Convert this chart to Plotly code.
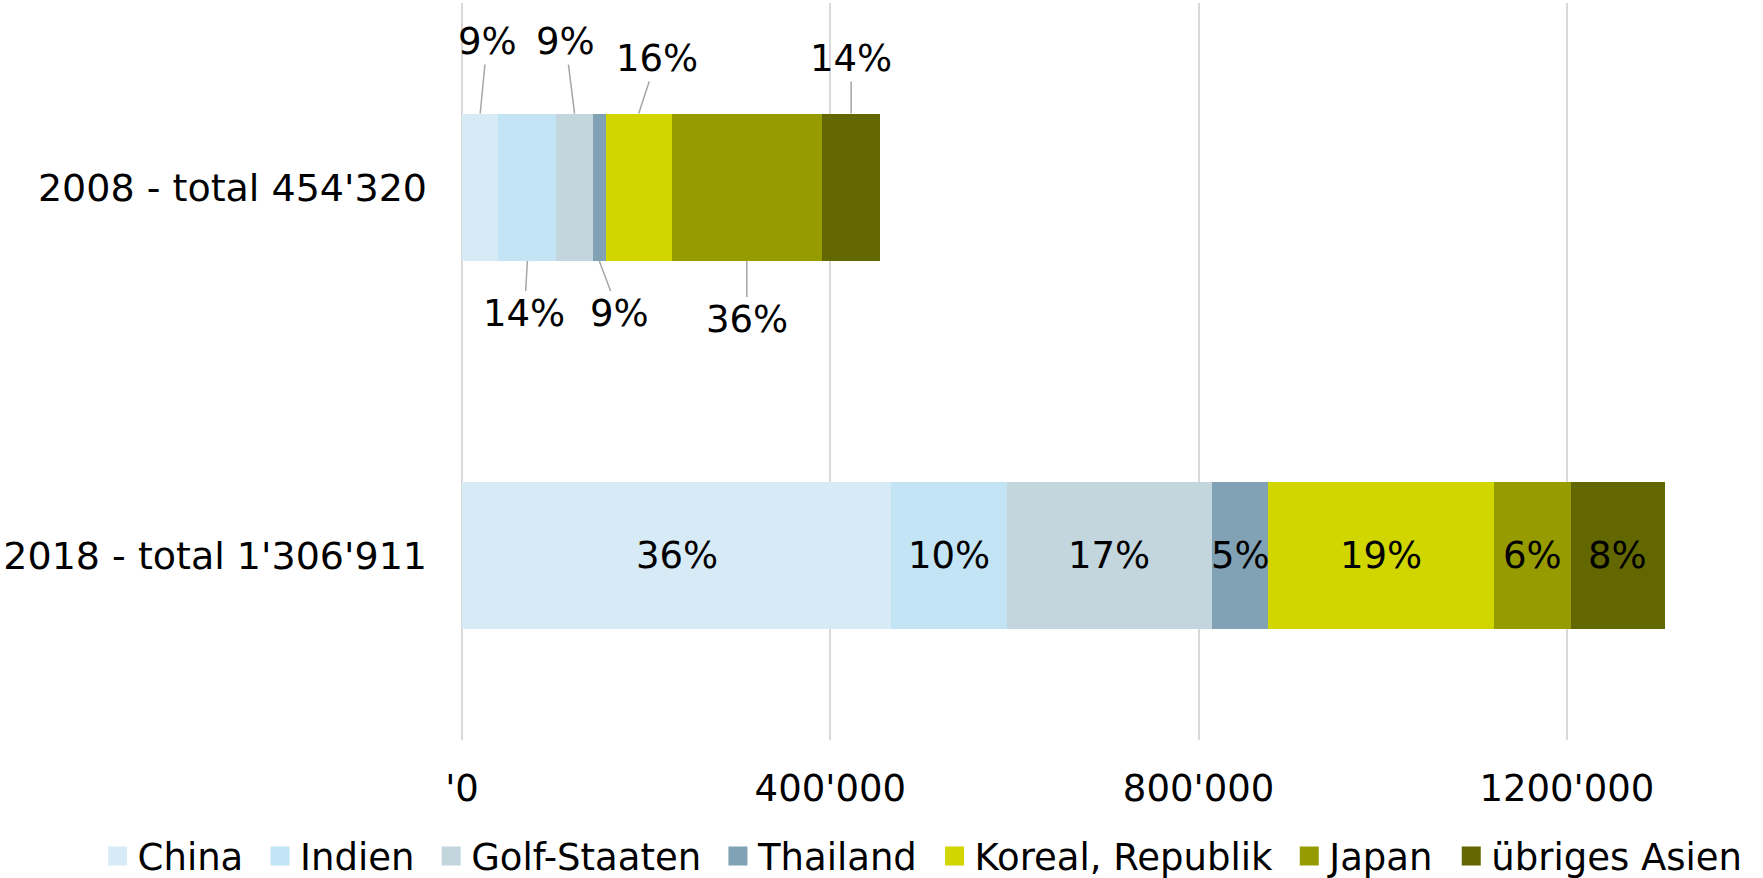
import plotly.graph_objects as go
import numpy as np

# --- data -------------------------------------------------------------
years = ["2008 - total 454'320", "2018 - total 1'306'911"]
regions = ["China", "Indien", "Golf-Staaten", "Thailand",
           "Koreal, Republik", "Japan", "übriges Asien"]
values_2008 = [39500, 63000, 39500, 14200, 71500, 163300, 63320]
values_2018 = [466000, 125500, 223500, 60000, 246000, 83000, 102911]
labels_2008 = ["9%", "14%", "9%", "9%", "16%", "36%", "14%"]
labels_2018 = ["36%", "10%", "17%", "5%", "19%", "6%", "8%"]
tick_vals = [0, 400000, 800000, 1200000]
tick_text = ["'0", "400'000", "800'000", "1200'000"]

# --- styling ------------------------------------------------------------
colors = ["#d7ebf7", "#c2e4f5", "#c3d6de", "#80a2b4",
          "#d1d500", "#969b00", "#636700"]
FONT = "DejaVu Sans"
FS = 37
# leader-line offsets (px) for the 2008 labels, and whether above/below
leader_2008 = [(7, -72, -1), (-3, 53, 1), (-9, -72, -1), (20, 53, 1),
               (18, -55, -1), (0, 59, 1), (0, -55, -1)]
BAR_HALF = 0.2

fig = go.Figure()

for i, reg in enumerate(regions):
    fig.add_trace(go.Bar(
        y=years, x=[values_2008[i], values_2018[i]], orientation="h",
        marker=dict(color=colors[i], line=dict(width=0)),
        name=reg, showlegend=False, hoverinfo="x+name",
    ))
    # legend entry with a larger square swatch
    pad = "\u2008" if i < len(regions) - 1 else ""
    fig.add_trace(go.Scatter(
        x=[None], y=[None], mode="markers", name=reg + pad,
        marker=dict(symbol="square", size=16, color=colors[i],
                    line=dict(color=colors[i], width=3)),
        showlegend=True,
    ))

annotations = []
starts_2008 = np.cumsum([0] + values_2008[:-1])
for i, lab in enumerate(labels_2008):
    ax, ay, side = leader_2008[i]
    annotations.append(dict(
        x=starts_2008[i] + values_2008[i] / 2, y=0 + side * BAR_HALF,
        xref="x", yref="y", text=lab, showarrow=True, arrowhead=0,
        arrowwidth=1.5, arrowcolor="#a6a6a6", ax=ax, ay=ay,
        font=dict(family=FONT, size=FS, color="black"),
    ))
starts_2018 = np.cumsum([0] + values_2018[:-1])
for i, lab in enumerate(labels_2018):
    annotations.append(dict(
        x=starts_2018[i] + values_2018[i] / 2, y=1, xref="x", yref="y",
        text=lab, showarrow=False,
        font=dict(family=FONT, size=FS, color="black"),
    ))

fig.update_layout(
    width=1763, height=878,
    margin=dict(l=462, r=12, t=3, b=138, autoexpand=False),
    paper_bgcolor="white", plot_bgcolor="white",
    barmode="stack", bargap=0.6,
    font=dict(family=FONT, size=FS, color="black"),
    annotations=annotations,
    legend=dict(orientation="h", xref="paper", yref="paper",
                x=-0.2827, xanchor="left", y=-0.158, yanchor="middle",
                traceorder="normal",
                font=dict(family=FONT, size=FS, color="black"),
                itemclick=False, itemdoubleclick=False, tracegroupgap=0),
    showlegend=True,
)
fig.update_xaxes(
    range=[0, 1400000], tickvals=tick_vals, ticktext=tick_text,
    showgrid=True, gridcolor="#d9d9d9", gridwidth=1.5,
    zeroline=True, zerolinecolor="#d9d9d9", zerolinewidth=1.5,
    showline=False, ticks="", ticklabelstandoff=23,
    tickfont=dict(family=FONT, size=FS, color="black"),
)
fig.update_yaxes(
    type="category", categoryorder="array", categoryarray=years,
    range=[1.5, -0.5], showgrid=False, zeroline=False, showline=False,
    ticks="", ticklabelstandoff=34,
    tickfont=dict(family=FONT, size=38, color="black"),
)

fig.write_html("out.html")
